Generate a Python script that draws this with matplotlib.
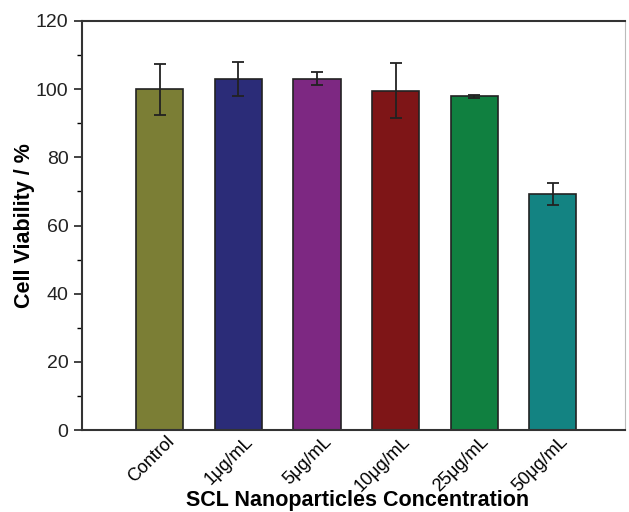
import numpy as np
import matplotlib
matplotlib.use("Agg")
import matplotlib.pyplot as plt
import matplotlib.transforms as mtransforms
from matplotlib.ticker import MultipleLocator

plt.rcParams['font.family'] = ['Liberation Sans', 'DejaVu Sans']

labels = ['Control', '1μg/mL', '5μg/mL', '10μg/mL', '25μg/mL', '50μg/mL']
viability = [100.0, 103.0, 103.0, 99.6, 97.9, 69.2]
errors = [7.5, 5.0, 1.9, 8.0, 0.4, 3.3]
colors = ['#7b7e35', '#2b2c78', '#7d2882', '#7e1517', '#108040', '#138382']

fig = plt.figure(figsize=(6.29, 5.12), dpi=100)
ax = fig.add_axes([0.130, 0.160, 0.864, 0.799])

x = np.arange(len(labels))
ax.bar(x, viability, width=0.6, color=colors, edgecolor='#222222', linewidth=1.2,
       yerr=errors, capsize=4, error_kw=dict(ecolor='#222222', elinewidth=1.3, capthick=1.3))

ax.set_xlim(-0.99, 5.92)
ax.set_ylim(0, 120)
ax.yaxis.set_major_locator(MultipleLocator(20))
ax.yaxis.set_minor_locator(MultipleLocator(10))
ax.tick_params(axis='y', direction='out', length=6, width=1.2, labelsize=14, colors='#222222')
ax.tick_params(axis='y', which='minor', direction='out', length=3.5, width=1.0)
ax.tick_params(axis='x', length=0, labelsize=13, pad=2)

ax.set_xticks(x)
ax.set_xticklabels(labels, rotation=45, ha='right', va='top', rotation_mode='anchor')
# shift the rotated labels a little to the right, like the original
shift = mtransforms.ScaledTranslation(6 / 100, 0, fig.dpi_scale_trans)
for lbl in ax.get_xticklabels():
    lbl.set_transform(lbl.get_transform() + shift)

for side in ['left', 'bottom', 'top']:
    ax.spines[side].set_linewidth(1.5)
    ax.spines[side].set_color('#333333')
ax.spines['right'].set_linewidth(0.8)
ax.spines['right'].set_color('#bbbbbb')

ax.set_ylabel('Cell Viability / %', fontsize=15.5, fontweight='bold', va='center')
ax.yaxis.set_label_coords(-0.106, 0.5)
ax.set_xlabel('SCL Nanoparticles Concentration', fontsize=15.5, fontweight='bold', va='center')
ax.xaxis.set_label_coords(0.508, -0.171)

fig.savefig('out.png', dpi=100)
